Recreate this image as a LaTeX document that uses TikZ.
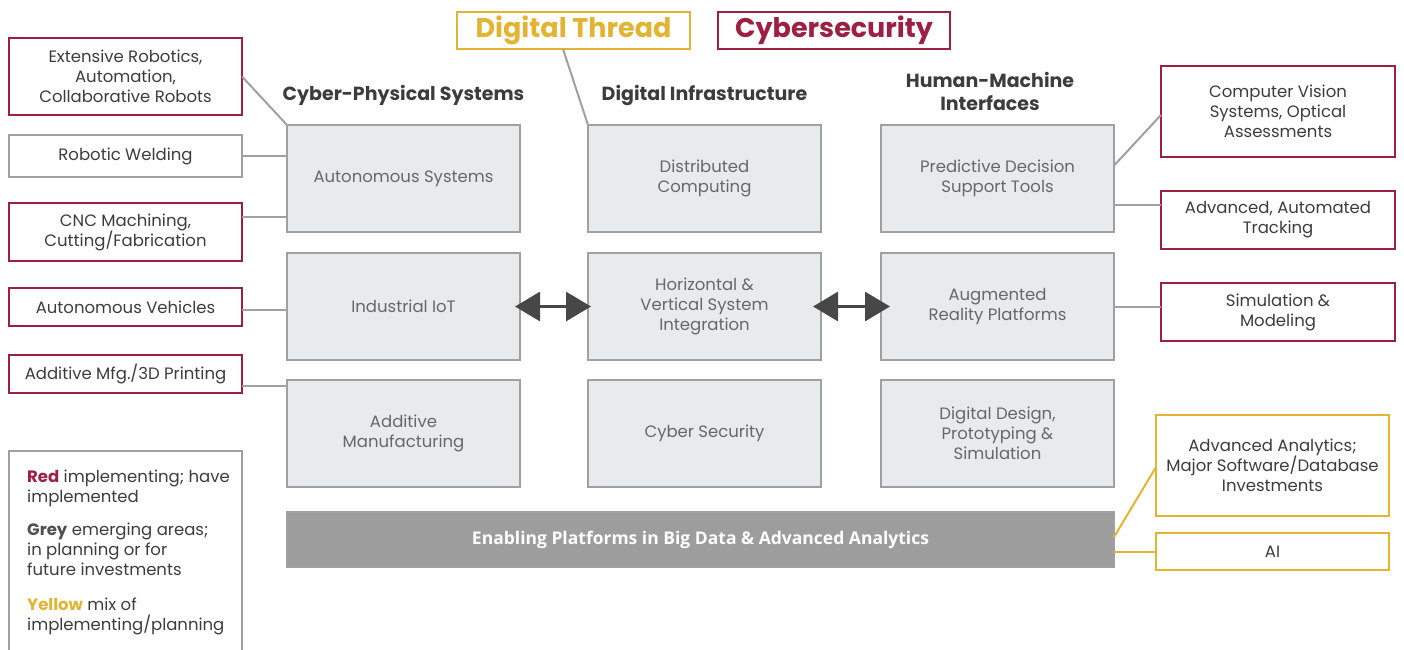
\documentclass[tikz,border=0pt]{standalone}
\usepackage{fontspec}
\setmainfont{Poppins}
\newfontfamily\barfont{Open Sans}
\usetikzlibrary{arrows.meta,calc}

\definecolor{impred}{HTML}{9E1F41}
\definecolor{mixyel}{HTML}{E2B432}
\definecolor{boxgrey}{HTML}{A0A0A0}
\definecolor{panel}{HTML}{E8EBED}
\definecolor{bartone}{HTML}{9D9D9D}
\definecolor{inktext}{HTML}{3C3C3C}
\definecolor{softtext}{HTML}{676767}
\definecolor{arrowink}{HTML}{474747}

\tikzset{
  base/.style={rectangle, inner sep=0pt, outer sep=0pt, align=center,
    line width=2pt, text=inktext, font=\fontsize{16.5}{20}\selectfont},
  redbox/.style={base, draw=impred},
  greybox/.style={base, draw=boxgrey},
  yelbox/.style={base, draw=mixyel},
  panelbox/.style={base, draw=boxgrey, fill=panel, text=softtext,
    minimum width=233pt, minimum height=107pt},
  heading/.style={font=\fontsize{19}{23}\selectfont\bfseries, text=inktext,
    align=center, inner sep=0pt},
  banner/.style={font=\fontsize{27}{30}\selectfont\bfseries,
    minimum height=37pt},
  link/.style={draw=boxgrey, line width=2pt},
  yellink/.style={draw=mixyel, line width=2pt},
  duplex/.style={draw=arrowink, line width=3pt,
    {Triangle[length=25pt,width=29pt]}-{Triangle[length=25pt,width=29pt]}},
}

\begin{document}
\begin{tikzpicture}[x=1pt,y=-1pt]
\useasboundingbox (0,0) rectangle (1404,649);

% top banners
\node[yelbox, banner, minimum width=233pt, text=mixyel] (thread) at (573.5,30.5) {Digital Thread};
\node[redbox, banner, minimum width=232pt, text=impred] (cyber) at (834,30.5) {Cybersecurity};

% column headings
\node[heading] (hcps) at (403.5,95.5) {Cyber-Physical Systems};
\node[heading] (hdi) at (704.5,95.5) {Digital Infrastructure};
\node[heading] (hhmi) at (990,91.5) {Human-Machine\\Interfaces};

% central panels
\node[panelbox] (c11) at (403.5,178.5) {\raisebox{-4pt}{Autonomous Systems}};
\node[panelbox] (c12) at (403.5,306.5) {Industrial IoT};
\node[panelbox] (c13) at (403.5,433.5) {Additive\\Manufacturing};
\node[panelbox] (c21) at (704.5,178.5) {Distributed\\Computing};
\node[panelbox] (c22) at (704.5,306.5) {Horizontal \&\\Vertical System\\Integration};
\node[panelbox] (c23) at (704.5,433.5) {Cyber Security};
\node[panelbox] (c31) at (997.5,178.5) {Predictive Decision\\Support Tools};
\node[panelbox] (c32) at (997.5,306.5) {Augmented\\Reality Platforms};
\node[panelbox] (c33) at (997.5,433.5) {Digital Design,\\Prototyping \&\\Simulation};

% enabling platform bar
\node[base, draw=boxgrey, fill=bartone, minimum width=827pt, minimum height=55pt,
  text=white, font=\barfont\fontsize{17.5}{20}\selectfont\bfseries] (bar) at (700.5,539.5)
  {\raisebox{-2pt}{Enabling Platforms in Big Data \& Advanced Analytics}};

% left examples
\node[redbox, minimum width=233pt, minimum height=77pt] (ext) at (125.5,76.5)
  {Extensive Robotics,\\Automation,\\Collaborative Robots};
\node[greybox, minimum width=233pt, minimum height=42pt] (weld) at (125.5,156)
  {\raisebox{-2pt}{Robotic Welding}};
\node[redbox, minimum width=233pt, minimum height=58pt] (cnc) at (125.5,232)
  {CNC Machining,\\Cutting/Fabrication};
\node[redbox, minimum width=233pt, minimum height=38pt] (veh) at (125.5,307) {Autonomous Vehicles};
\node[redbox, minimum width=233pt, minimum height=38pt] (amfg) at (125.5,374) {Additive Mfg./3D Printing};

% right examples
\node[redbox, minimum width=234pt, minimum height=91pt] (vision) at (1278,111.5)
  {Computer Vision\\Systems, Optical\\Assessments};
\node[redbox, minimum width=234pt, minimum height=58pt] (track) at (1278,220)
  {Advanced, Automated\\Tracking};
\node[redbox, minimum width=234pt, minimum height=58pt] (simu) at (1278,312)
  {Simulation \&\\Modeling};
\node[yelbox, minimum width=233pt, minimum height=101pt] (anly) at (1272.5,465.5)
  {Advanced Analytics;\\Major Software/Database\\Investments};
\node[yelbox, minimum width=233pt, minimum height=37pt] (ai) at (1272.5,551.5) {AI};

% legend
\draw[draw=boxgrey, line width=2pt] (9,655) coordinate (lgbl) -- (9,451) -- (242,451) -- (242,655);
\node[anchor=north west, inner sep=0pt, align=left, text=inktext,
  font=\fontsize{16.5}{20}\selectfont] (legend) at (27,470)
  {{\bfseries\color{impred}Red} implementing; have\\implemented\\[13pt]
   {\bfseries\color{inktext!90}Grey} emerging areas;\\in planning or for\\future investments\\[15pt]
   {\bfseries\color{mixyel}Yellow} mix of\\implementing/planning};

% connectors, left side
\draw[link] (ext.east) -- (c11.north west);
\draw[link] (weld.east) -- (weld.east -| c11.west);
\draw[link] ([yshift=15pt]cnc.east) -- ([yshift=15pt]cnc.east -| c11.west);
\draw[link] ([yshift=-3pt]veh.east) -- ([yshift=-3pt]veh.east -| c12.west);
\draw[link] ([yshift=-12pt]amfg.east) -- ([yshift=-12pt]amfg.east -| c13.west);

% connector from the thread banner
\draw[link] ([xshift=-10.5pt]thread.south) -- (c21.north west);

% connectors, right side
\draw[link] ([yshift=13pt]c31.east) -- ([yshift=-3.5pt]vision.west);
\draw[link] ([yshift=-26.5pt]c31.east) -- ([yshift=-26.5pt]c31.east -| track.west);
\draw[link] (c32.east) -- (c32.east -| simu.west);
\draw[yellink] ([yshift=2.5pt]bar.east) -- ([yshift=-1.5pt]anly.west);
\draw[yellink] ([yshift=-12.5pt]bar.east) -- ([yshift=-12.5pt]bar.east -| ai.west);

% two-way arrows between columns
\draw[duplex] ([xshift=-5pt]c12.east) -- ([xshift=3pt]c22.west);
\draw[duplex] ([xshift=-8pt]c22.east) -- ([xshift=9pt]c32.west);
\end{tikzpicture}
\end{document}
